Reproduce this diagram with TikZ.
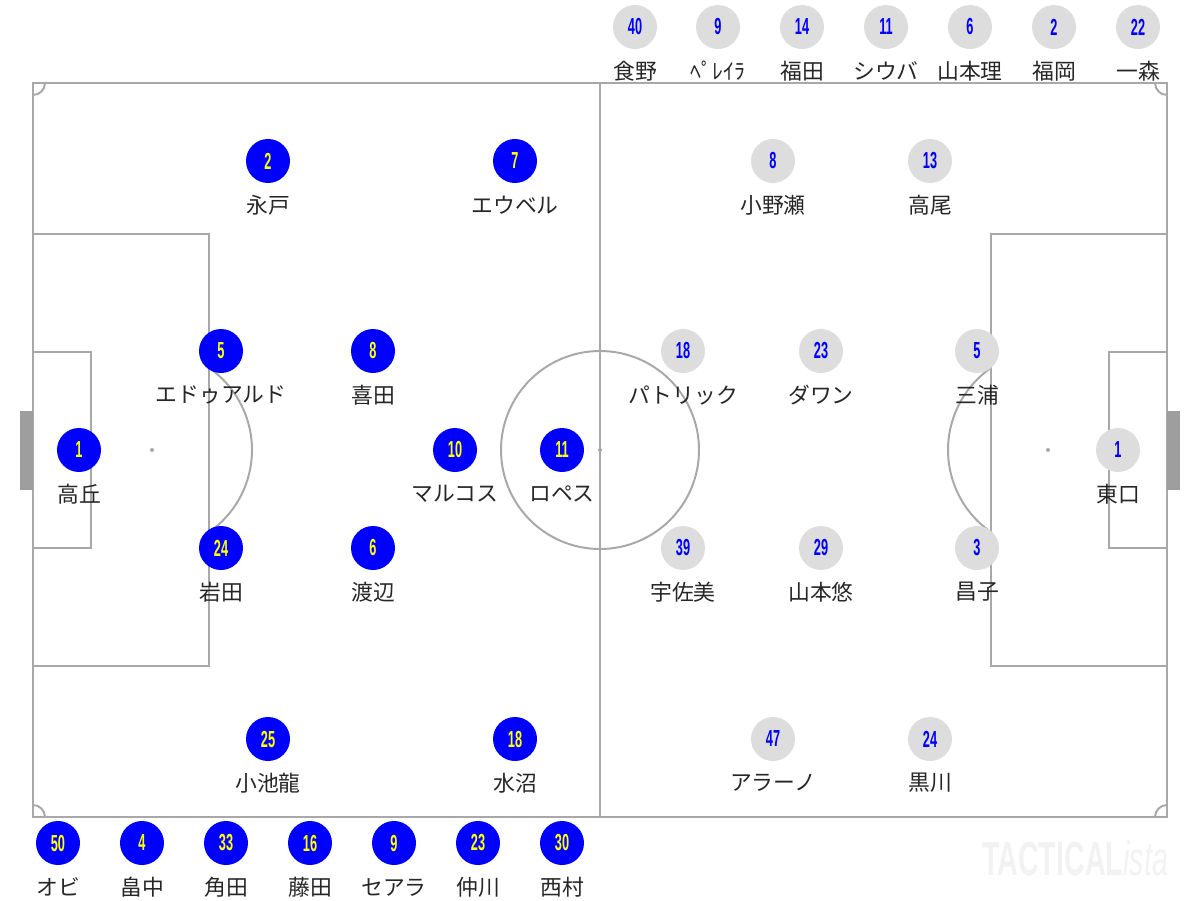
\documentclass[tikz,border=0pt]{standalone}
\usepackage{fontspec}
\newfontfamily\jpfont{Noto Sans CJK JP}
\newfontfamily\numfont{Liberation Sans}
\usetikzlibrary{calc}
\definecolor{pitchline}{HTML}{A8A8A8}
\definecolor{goalgrey}{HTML}{9E9E9E}
\definecolor{homeblue}{HTML}{0000FF}
\definecolor{homeyellow}{HTML}{FFFF00}
\definecolor{awaygrey}{HTML}{DDDDDD}
\tikzset{
  pitch/.style={draw=pitchline, line width=1.4pt},
  homedot/.style={circle, fill=homeblue, text=homeyellow, minimum size=1.1cm, inner sep=0pt,
    font=\numfont\bfseries\fontsize{16.5}{16.5}\selectfont},
  awaydot/.style={circle, fill=awaygrey, text=homeblue, minimum size=1.1cm, inner sep=0pt,
    font=\numfont\bfseries\fontsize{16.5}{16.5}\selectfont},
  namelabel/.style={font=\jpfont\fontsize{15.5}{15.5}\selectfont, text=black!85, inner sep=0pt}
}
\def\homeplayer[#1](#2)#3#4{%
  \node[homedot] (#1) at (#2) {\scalebox{0.55}[1]{#3}};
  \node[namelabel] (#1-lbl) at ([yshift=-1.1cm]#1.center) {#4};}
\def\awayplayer[#1](#2)#3#4{%
  \node[awaydot] (#1) at (#2) {\scalebox{0.55}[1]{#3}};
  \node[namelabel] (#1-lbl) at ([yshift=-1.1cm]#1.center) {#4};}

\begin{document}
\begin{tikzpicture}[x=0.025cm, y=-0.025cm]
	%%%%% START %%%%%
	\useasboundingbox (0,0) rectangle (1200,900);
	
	% pitch
	\draw[pitch] (33,83) rectangle (1167,817);
	\draw[pitch] (600,83) -- (600,817);
	\draw[pitch] (600,450) circle (99);
	\fill[pitchline] (600,450) circle (2);
	
	\draw[pitch] (45,83) arc (0:90:12);
	\draw[pitch] (33,805) arc (270:360:12);
	\draw[pitch] (1155,83) arc (180:90:12);
	\draw[pitch] (1167,805) arc (270:180:12);
	
	\draw[pitch] (33,234) -- (209,234) -- (209,666) -- (33,666);
	\draw[pitch] (33,352) -- (91,352) -- (91,548) -- (33,548);
	\fill[goalgrey] (20,411) rectangle (33,490);
	\fill[pitchline] (152,450) circle (2);
	\draw[pitch] ($(152,450)+(-55.2:100)$) arc (-55.2:55.2:100);
	
	\draw[pitch] (1167,234) -- (991,234) -- (991,666) -- (1167,666);
	\draw[pitch] (1167,352) -- (1109,352) -- (1109,548) -- (1167,548);
	\fill[goalgrey] (1167,411) rectangle (1180,490);
	\fill[pitchline] (1048,450) circle (2);
	\draw[pitch] ($(1048,450)+(124.8:100)$) arc (124.8:235.2:100);
	
	% home
	\homeplayer[h1](79,450){1}{高丘}
	\homeplayer[h5](221,351){5}{エドゥアルド}
	\homeplayer[h24](221,548){24}{岩田}
	\homeplayer[h2](268,161){2}{永戸}
	\homeplayer[h25](268,739){25}{小池龍}
	\homeplayer[h8](373,351){8}{喜田}
	\homeplayer[h6](373,548){6}{渡辺}
	\homeplayer[h10](455,450){10}{マルコス}
	\homeplayer[h11](562,450){11}{ロペス}
	\homeplayer[h7](515,161){7}{エウベル}
	\homeplayer[h18](515,739){18}{水沼}
	
	% away
	\awayplayer[a8](773,161){8}{小野瀬}
	\awayplayer[a13](930,161){13}{高尾}
	\awayplayer[a18](683,351){18}{パトリック}
	\awayplayer[a23](821,351){23}{ダワン}
	\awayplayer[a5](977,351){5}{三浦}
	\awayplayer[a1](1118,450){1}{東口}
	\awayplayer[a39](683,548){39}{宇佐美}
	\awayplayer[a29](821,548){29}{山本悠}
	\awayplayer[a3](977,548){3}{昌子}
	\awayplayer[a47](773,739){47}{アラーノ}
	\awayplayer[a24](930,739){24}{黒川}
	
	% benches
	\homeplayer[hs50](58,843){50}{オビ}
	\homeplayer[hs4](142,843){4}{畠中}
	\homeplayer[hs33](226,843){33}{角田}
	\homeplayer[hs16](310,843){16}{藤田}
	\homeplayer[hs9](394,843){9}{セアラ}
	\homeplayer[hs23](478,843){23}{仲川}
	\homeplayer[hs30](562,843){30}{西村}
	
	\awayplayer[as40](635,27){40}{食野}
	\awayplayer[as9](718,27){9}{ﾍﾟﾚｲﾗ}
	\awayplayer[as14](802,27){14}{福田}
	\awayplayer[as11](886,27){11}{シウバ}
	\awayplayer[as6](970,27){6}{山本理}
	\awayplayer[as2](1054,27){2}{福岡}
	\awayplayer[as22](1138,27){22}{一森}
	
	\node[text=black!5, font=\numfont\bfseries\fontsize{34}{34}\selectfont] (logo) at (1075,858)
		{\scalebox{0.6}[1]{TACTICAL{\mdseries\itshape ista}}};
	%%%%% END %%%%%
\end{tikzpicture}
\end{document}
